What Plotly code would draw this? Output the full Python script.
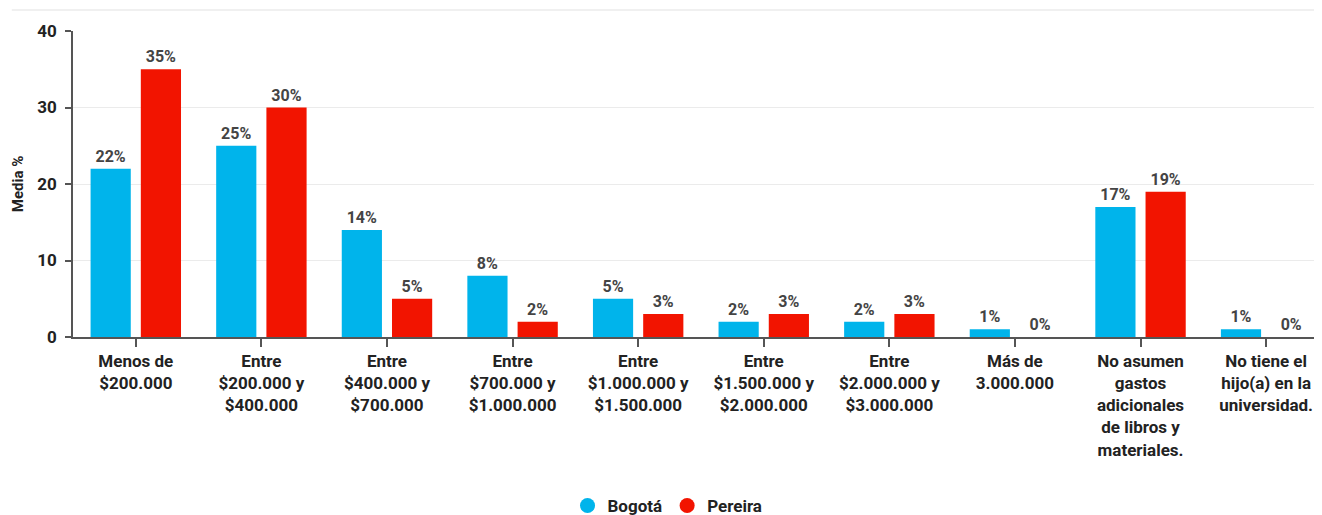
import plotly.graph_objects as go

categories = ["Menos de<br>$200.000", "Entre<br>$200.000 y<br>$400.000", "Entre<br>$400.000 y<br>$700.000",
              "Entre<br>$700.000 y<br>$1.000.000", "Entre<br>$1.000.000 y<br>$1.500.000",
              "Entre<br>$1.500.000 y<br>$2.000.000", "Entre<br>$2.000.000 y<br>$3.000.000",
              "Más de<br>3.000.000", "No asumen<br>gastos<br>adicionales<br>de libros y<br>materiales.",
              "No tiene el<br>hijo(a) en la<br>universidad."]
bogota = [22, 25, 14, 8, 5, 2, 2, 1, 17, 1]
pereira = [35, 30, 5, 2, 3, 3, 3, 0, 19, 0]
series_names = ["Bogotá", "Pereira"]
colors = ["#00B4EB", "#F21400"]

FONT = "Roboto"
fig = go.Figure()
for name, vals, col in zip(series_names, [bogota, pereira], colors):
    fig.add_trace(go.Bar(
        x=categories, y=vals, name=name, marker=dict(color=col, line=dict(width=0)),
        text=[f"{v}%" for v in vals], textposition="outside", cliponaxis=False,
        textfont=dict(family=FONT, size=16, color="#444444", weight="bold"),
        showlegend=False))
    fig.add_trace(go.Scatter(
        x=[None], y=[None], mode="markers", name=name,
        marker=dict(symbol="circle", size=15, color=col), showlegend=True))

fig.update_layout(
    width=1314, height=507,
    margin=dict(l=65, r=0, t=23, b=178, autoexpand=False),
    plot_bgcolor="white", paper_bgcolor="white",
    barmode="group", bargap=0.2, bargroupgap=0.2,
    font=dict(family=FONT, size=16, color="#222222", weight="bold"),
    legend=dict(orientation="h", x=0.476, xanchor="center", y=-0.552, yanchor="middle",
                font=dict(family=FONT, size=17, color="#222222", weight="bold"),
                itemwidth=30, traceorder="normal"),
    shapes=[dict(type="line", xref="paper", yref="paper", x0=-0.049, x1=1.0, y0=1.069, y1=1.069,
                 line=dict(color="#EBEBEB", width=1.5))],
)
fig.update_xaxes(range=[-0.5, 9.445], showline=True, linecolor="#555555", linewidth=1.5,
                 ticks="outside", ticklen=8, tickcolor="#555555", tickwidth=1.5, automargin=False,
                 tickfont=dict(family=FONT, size=17, color="#222222", weight="bold"),
                 showgrid=False, zeroline=False)
fig.update_yaxes(range=[0, 40], tickvals=[0, 10, 20, 30, 40], showline=True, linecolor="#555555",
                 linewidth=1.5, ticks="outside", ticklen=6, tickcolor="#555555", tickwidth=1.5,
                 gridcolor="#EBEBEB", gridwidth=1, zeroline=False, automargin=False,
                 ticklabelstandoff=5,
                 title=dict(text="Media %", standoff=10,
                            font=dict(family=FONT, size=15, color="#222222", weight="bold")),
                 tickfont=dict(family=FONT, size=17, color="#222222", weight="bold"))

fig.write_html("out.html")
